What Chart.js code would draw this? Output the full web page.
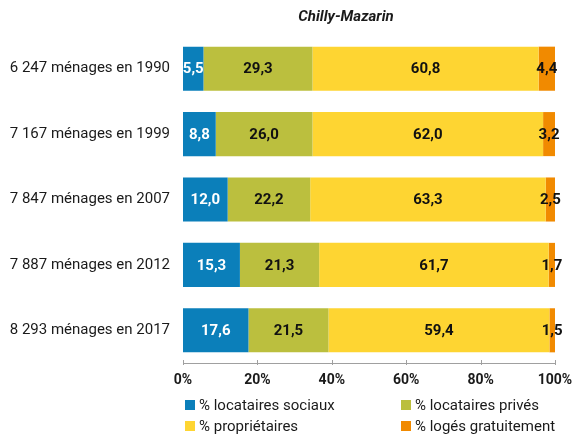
<!DOCTYPE html>
<html><head><meta charset="utf-8">
<script src="https://cdn.jsdelivr.net/npm/chart.js@4"></script>
<style>html,body{margin:0;padding:0;background:#fff}#wrap{width:576px;height:437px}</style>
</head><body><div id="wrap"><canvas id="c" width="576" height="437"></canvas></div>
<script>
const categories = ["6 247 ménages en 1990","7 167 ménages en 1999","7 847 ménages en 2007","7 887 ménages en 2012","8 293 ménages en 2017"];
const locSociaux = [5.5, 8.8, 12.0, 15.3, 17.6];
const locPrives = [29.3, 26.0, 22.2, 21.3, 21.5];
const proprietaires = [60.8, 62.0, 63.3, 61.7, 59.4];
const logesGratuit = [4.4, 3.2, 2.5, 1.7, 1.5];
const seriesNames = ["% locataires sociaux","% locataires privés","% propriétaires","% logés gratuitement"];
const colors = ["#0b7fba","#bbbf3e","#fed532","#f18a00"];
const labelColors = ["#ffffff","#111111","#111111","#111111"];
const xTicks = [0,20,40,60,80,100];
const titleText = "Chilly-Mazarin";

const FONT = "Roboto";

const labelsPlugin = {
  id: 'vals',
  afterDatasetsDraw(chart) {
    const ctx = chart.ctx;
    ctx.save();
    ctx.font = "bold 15px " + FONT;
    ctx.textAlign = 'center';
    ctx.textBaseline = 'middle';
    chart.data.datasets.forEach((ds, di) => {
      const meta = chart.getDatasetMeta(di);
      meta.data.forEach((el, i) => {
        const p = el.getCenterPoint();
        ctx.fillStyle = labelColors[di];
        ctx.fillText(ds.data[i].toFixed(1).replace('.', ','), p.x, p.y + 1);
      });
    });
    ctx.restore();
  }
};

const decoPlugin = {
  id: 'deco',
  afterDraw(chart) {
    const ctx = chart.ctx;
    const xs = chart.scales.x;
    const area = chart.chartArea;
    ctx.save();
    ctx.strokeStyle = '#a0a0a0';
    ctx.lineWidth = 1;
    xTicks.forEach(v => {
      const px = Math.round(xs.getPixelForValue(v)) + 0.5;
      ctx.beginPath();
      ctx.moveTo(px, area.bottom + 2);
      ctx.lineTo(px, area.bottom - 3);
      ctx.stroke();
    });
    ctx.fillStyle = '#1a1a1a';
    ctx.font = "italic bold 15px " + FONT;
    ctx.textAlign = 'center';
    ctx.textBaseline = 'middle';
    ctx.fillText(titleText, 346, 17);
    ctx.font = "15px " + FONT;
    ctx.textAlign = 'left';
    const pos = [[185,405],[401,405],[185,426],[401,426]];
    chart.data.datasets.forEach((ds, di) => {
      const [x, y] = pos[di];
      ctx.fillStyle = ds.backgroundColor;
      ctx.fillRect(x, y - 5, 10, 10);
      ctx.fillStyle = '#1a1a1a';
      ctx.fillText(ds.label, x + 14, y + 1);
    });
    ctx.restore();
  }
};

new Chart(document.getElementById('c'), {
  type: 'bar',
  data: {
    labels: categories,
    datasets: [locSociaux, locPrives, proprietaires, logesGratuit].map((d, i) => ({
      label: seriesNames[i],
      data: d,
      backgroundColor: colors[i],
      borderWidth: 0,
      barPercentage: 0.674,
      categoryPercentage: 1
    }))
  },
  options: {
    indexAxis: 'y',
    responsive: false,
    animation: false,
    layout: { padding: { top: 36, right: 21, bottom: 44, left: 0 } },
    plugins: { legend: { display: false }, title: { display: false }, tooltip: { enabled: false } },
    scales: {
      x: {
        stacked: true, min: 0, max: 100,
        afterBuildTicks(s) { s.ticks = xTicks.map(v => ({ value: v })); },
        afterFit(s) { s.height = 30; s.paddingLeft = 0; s.paddingRight = 0; },
        grid: { display: false, drawTicks: false },
        border: { display: true, color: '#a0a0a0', width: 1 },
        ticks: { padding: 9, color: '#1a1a1a', font: { family: FONT, size: 14, weight: 'bold' }, callback: v => v + '%', maxRotation: 0 }
      },
      y: {
        stacked: true,
        afterFit(s) { s.width = 183; s.paddingTop = 0; s.paddingBottom = 0; },
        grid: { display: false, drawTicks: false },
        border: { display: false },
        ticks: { padding: 13, color: '#1a1a1a', font: { family: FONT, size: 15 } }
      }
    }
  },
  plugins: [labelsPlugin, decoPlugin]
});
</script></body></html>
